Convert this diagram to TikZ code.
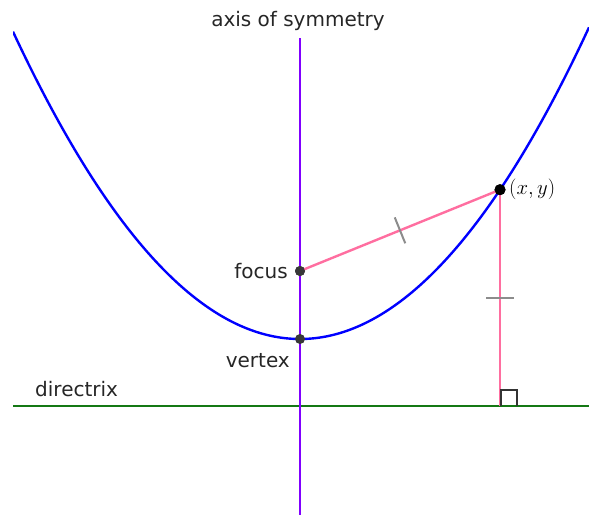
\documentclass[tikz,border=0pt]{standalone}
\usepackage{fontspec}
\setmainfont{DejaVu Sans}
\usetikzlibrary{calc}
\begin{document}
\begin{tikzpicture}[x=1pt,y=-1pt,
  lbl/.style={inner sep=0pt,font=\fontsize{20}{24}\selectfont,text=black!85},
  dotg/.style={circle,fill=black!78,inner sep=0pt,minimum size=10pt},
  dotk/.style={circle,fill=black,inner sep=0pt,minimum size=11pt},
  pinkline/.style={draw=pinkc,line width=2.4pt},
  tick/.style={draw=black!45,line width=2pt}]
\definecolor{pinkc}{RGB}{255,110,160}
\definecolor{purp}{RGB}{128,0,255}
\definecolor{greenc}{RGB}{20,120,20}
\useasboundingbox (0,0) rectangle (589,515);
\begin{scope}
\clip (13,0) rectangle (589,515);
\draw[blue,line width=2.4pt] plot[domain=13:589,samples=120,smooth] (\x,{339-((\x-300)/16.3707)*((\x-300)/16.3707)});
\end{scope}
\coordinate (dl) at (13,406);
\coordinate (dr) at (589,406);
\draw[greenc,line width=2.4pt] (dl) -- (dr);
\coordinate (at) at (300,38);
\coordinate (ab) at (300,515);
\draw[purp,line width=2.4pt] (at) -- (ab);
\node[dotg] (F) at (300,271) {};
\node[dotg] (V) at (300,339) {};
\node[dotk] (P) at (500,189.7) {};
\coordinate (D) at (500,406);
\draw[pinkline] (F.center) -- (P.center);
\draw[pinkline] (P.center) -- (D);
\node[dotk] at (P) {};
\node[dotg] at (F) {};
% ticks
\coordinate (m1) at ($(F)!0.5!(P)$);
\draw[tick] ($(m1)!14pt!90:(P)$) -- ($(m1)!14pt!-90:(P)$);
\coordinate (m2) at (500,298);
\draw[tick] (486,298) -- (514,298);
% right angle
\draw[black!80,line width=1.5pt] (501,406) -- (501,390) -- (517,390) -- (517,406);
% labels
\node[lbl] (axl) at (298,21) {axis of symmetry};
\node[lbl,anchor=east] (fl) at (288,271) {focus};
\node[lbl,anchor=east] (vl) at (290,361) {vertex};
\node[lbl,anchor=west] (dlab) at (35,389) {directrix};
\node[anchor=west,inner sep=0pt,font=\fontsize{22}{26}\selectfont] (pl) at (509,189) {$(x,y)$};
\end{tikzpicture}
\end{document}
